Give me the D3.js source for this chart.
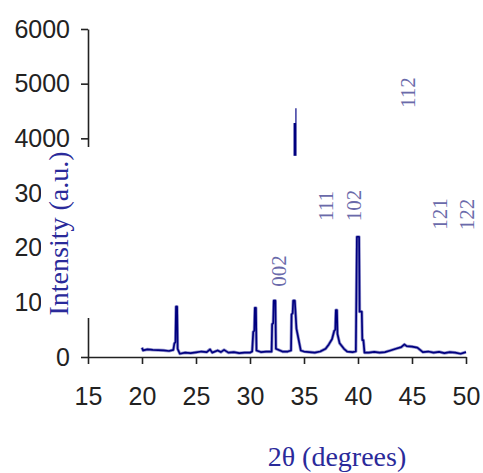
<!DOCTYPE html>
<html><head><meta charset="utf-8">
<script src="https://cdn.jsdelivr.net/npm/d3@7"></script>
<style>body{margin:0;background:#fff}</style>
</head><body><svg id="c" width="483" height="473"></svg>
<script>
// XRD pattern data (2θ in degrees, intensity in a.u.)
const twoTheta = [20.0,20.1,20.5,21.0,21.5,22.0,22.5,22.9,23.0,23.1,23.15,23.25,23.3,23.5,24.0,24.5,25.0,25.5,26.0,26.3,26.5,27.0,27.3,27.6,28.0,28.5,29.0,29.5,30.0,30.2,30.3,30.4,30.45,30.55,30.6,31.0,31.5,32.0,32.05,32.15,32.2,32.35,32.4,33.0,33.5,33.8,33.85,33.95,34.0,34.15,34.3,34.5,34.7,35.0,35.5,36.0,36.5,37.0,37.3,37.6,37.8,37.9,37.95,38.05,38.1,38.3,38.5,38.7,39.0,39.5,39.8,39.9,40.1,40.15,40.35,40.4,40.5,40.6,41.0,41.5,42.0,42.5,43.0,43.5,44.0,44.3,44.5,45.0,45.5,46.0,46.5,47.0,47.5,48.0,48.5,49.0,49.5,50.0];
const intensity = [170,120,140,130,125,120,110,130,250,270,920,920,150,60,80,70,85,100,90,140,80,120,90,130,80,90,70,80,80,100,460,480,900,900,120,90,100,100,600,620,1030,1030,150,100,100,120,780,800,1030,1030,520,320,120,100,90,80,100,150,230,330,480,500,860,860,420,250,200,150,100,90,100,2200,2200,830,830,310,310,80,80,95,80,90,120,150,180,230,200,190,170,90,100,80,95,70,90,80,60,90];
// visible upper fragment of the strongest peak
const upperTwoTheta = [34.17, 34.17];
const upperIntensity = [3680, 4280];
const tipTwoTheta = [34.25, 34.25];
const tipIntensity = [4280, 4550];

const xTicks = [15,20,25,30,35,40,45,50];
const yTicks = [0,1000,2000,3000,4000,5000,6000];

const peakLabels = ["002","111","102","112","121","122"];
const peakLabelTwoTheta = [32.69,36.99,39.58,44.58,47.55,50.09];
const peakLabelIntensity = [1573,2762,2771,4838,2616,2607];

const svg = d3.select("#c");
const x = d3.scaleLinear().domain([15,50]).range([88,466]);
const y = d3.scaleLinear().domain([0,6000]).range([357,29]);

const axisColor = "#222";
const gx = svg.append("g").attr("transform","translate(0,357)")
  .call(d3.axisBottom(x).tickValues(xTicks).tickFormat(d3.format("d")).tickSize(7).tickSizeOuter(0).tickPadding(23));
const gy = svg.append("g").attr("transform","translate(88,0)")
  .call(d3.axisLeft(y).tickValues(yTicks).tickFormat(d3.format("d")).tickSize(7).tickSizeOuter(0).tickPadding(11));
[gx,gy].forEach(g=>{
  g.selectAll("path,line").attr("stroke",axisColor).attr("stroke-width",1.6);
  g.selectAll("text").attr("fill","#222").style("font-family","'Liberation Sans',Arial,sans-serif").style("font-size","25px");
});

const line = d3.line().x(d=>x(d[0])).y(d=>y(d[1]));
const main = twoTheta.map((t,i)=>[t,intensity[i]]);
svg.append("path").datum(main).attr("d",line).attr("fill","none")
  .attr("stroke","#9a9ad0").attr("stroke-width",3.2).attr("stroke-linejoin","round");
svg.append("path").datum(main).attr("d",line).attr("fill","none")
  .attr("stroke","#00007f").attr("stroke-width",1.7).attr("stroke-linejoin","round");

svg.append("path").datum(upperTwoTheta.map((t,i)=>[t,upperIntensity[i]])).attr("d",line)
  .attr("fill","none").attr("stroke","#00007f").attr("stroke-width",3);
svg.append("path").datum(tipTwoTheta.map((t,i)=>[t,tipIntensity[i]])).attr("d",line)
  .attr("fill","none").attr("stroke","#3a3aa0").attr("stroke-width",1.5);

// y title with its white text box
svg.append("rect").attr("x",41).attr("y",147).attr("width",53).attr("height",171).attr("fill","#fff");
svg.append("text").attr("transform","translate(68.4,233.5) rotate(-90)")
  .attr("text-anchor","middle").attr("fill","#2a2a9a")
  .style("font-family","'Liberation Serif','Times New Roman',serif").style("font-size","28px")
  .text("Intensity (a.u.)");

svg.append("text").attr("x",337).attr("y",466.4).attr("text-anchor","middle").attr("fill","#2a2a9a")
  .style("font-family","'Liberation Serif','Times New Roman',serif").style("font-size","28px")
  .text("2θ (degrees)");

svg.selectAll("text.peak").data(peakLabels).enter().append("text").attr("class","peak")
  .attr("transform",(d,i)=>`translate(${x(peakLabelTwoTheta[i])},${y(peakLabelIntensity[i])}) rotate(-90)`)
  .attr("text-anchor","middle").attr("dy","0.34em").attr("fill","#6a6aaa")
  .style("font-family","'Liberation Serif','Times New Roman',serif").style("font-size","21px")
  .text(d=>d);
</script></body></html>
